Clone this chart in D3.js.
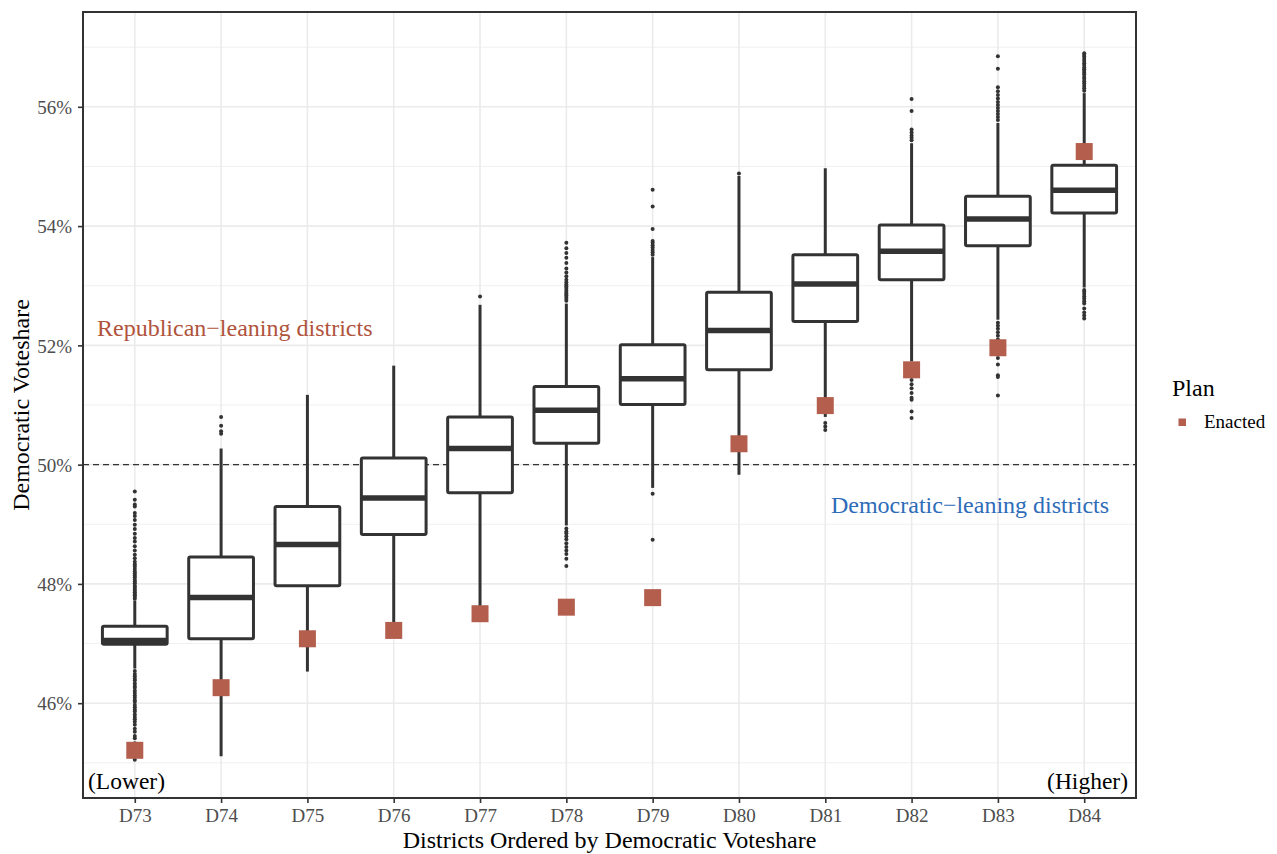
<!DOCTYPE html>
<html>
<head>
<meta charset="utf-8">
<script src="https://cdn.jsdelivr.net/npm/d3@7"></script>
<style>
  body { margin: 0; background: #fff; }
  text { font-family: "Liberation Serif", "Times New Roman", serif; }
</style>
</head>
<body>
<div id="chart"></div>
<script>
// districts, ordered by democratic voteshare
var districts = ["D73", "D74", "D75", "D76", "D77", "D78", "D79", "D80", "D81", "D82", "D83", "D84"];

// box stats (% dem voteshare)
var q1        = [46.99, 47.08, 47.97, 48.83, 49.53, 50.36, 51.01, 51.59, 52.40, 53.10, 53.67, 54.22];
var medians   = [47.05, 47.77, 48.66, 49.44, 50.27, 50.91, 51.44, 52.25, 53.03, 53.58, 54.12, 54.60];
var q3        = [47.29, 48.45, 49.30, 50.11, 50.80, 51.31, 52.01, 52.89, 53.52, 54.02, 54.50, 55.02];
var whiskerLo = [46.58, 45.11, 46.53, 47.25, 47.62, 48.98, 49.61, 49.83, 50.80, 51.73, 52.43, 52.97];
var whiskerHi = [47.72, 50.27, 51.17, 51.66, 52.68, 52.70, 53.48, 54.84, 54.97, 55.39, 55.73, 56.23];
var enacted   = [45.21, 46.26, 47.08, 47.22, 47.50, 47.61, 47.77, 50.35, 50.99, 51.59, 51.96, 55.25];

var outliers = [
  [47.75, 47.78, 47.81, 47.83, 47.86, 47.89, 47.92, 47.95, 47.97, 48.01, 48.04, 48.07, 48.11, 48.14, 48.18, 48.21,
   48.25, 48.29, 48.33, 48.37, 48.43, 48.49, 48.56, 48.63, 48.71, 48.77, 48.84, 48.92, 48.99, 49.07, 49.14, 49.19,
   49.30, 49.33, 49.41, 49.55,
   46.54, 46.49, 46.45, 46.41, 46.38, 46.33, 46.29, 46.26, 46.21, 46.17, 46.13, 46.09, 46.05, 46.02, 45.97, 45.93,
   45.89, 45.86, 45.81, 45.77, 45.73, 45.69, 45.64, 45.57, 45.52, 45.45, 45.41, 45.33, 45.27, 45.19, 45.12, 45.05],
  [50.52, 50.56, 50.65, 50.80],
  [],
  [],
  [52.82],
  [52.75, 52.78, 52.81, 52.84, 52.87, 52.90, 52.93, 52.96, 52.99, 53.02, 53.06, 53.10, 53.16, 53.22, 53.29, 53.38,
   53.47, 53.55, 53.63, 53.72,
   48.93, 48.88, 48.85, 48.80, 48.75, 48.68, 48.62, 48.56, 48.50, 48.42, 48.30],
  [53.52, 53.56, 53.60, 53.64, 53.68, 53.72, 53.75, 53.95, 54.33, 54.61, 49.51, 48.74],
  [54.88],
  [50.70, 50.64, 50.58],
  [55.44, 55.48, 55.52, 55.57, 55.62, 55.93, 56.13,
   51.68, 51.62, 51.55, 51.48, 51.42, 51.35, 51.28, 51.20, 51.12, 51.09, 50.89, 50.78],
  [55.78, 55.83, 55.88, 55.93, 55.98, 56.03, 56.08, 56.14, 56.20, 56.26, 56.33, 56.64, 56.85,
   52.38, 52.33, 52.28, 52.22, 52.16, 52.10, 52.05, 51.79, 51.68, 51.50, 51.47, 51.16],
  [56.27, 56.31, 56.35, 56.39, 56.43, 56.47, 56.50, 56.54, 56.57, 56.60, 56.63, 56.66, 56.70, 56.73, 56.77, 56.80,
   56.84, 56.87, 56.90,
   52.93, 52.90, 52.86, 52.82, 52.78, 52.74, 52.70, 52.62, 52.55, 52.50, 52.45]
];

var yTicks = [46, 48, 50, 52, 54, 56];
var yMinor = [45, 47, 49, 51, 53, 55, 57];

var width = 1277;
var height = 854;
var panelL = 83, panelT = 12, panelR = 1136, panelB = 798;

var svg = d3.select("#chart").append("svg")
    .attr("width", width)
    .attr("height", height);

var x = d3.scalePoint().domain(districts).range([panelL, panelR]).padding(0.6);
var y = d3.scaleLinear().domain([44.41, 57.59]).range([panelB, panelT]);
var halfBox = x.step() * 0.375;

// grid
svg.append("g").selectAll("line").data(yMinor).enter().append("line")
    .attr("x1", panelL).attr("x2", panelR)
    .attr("y1", d => y(d)).attr("y2", d => y(d))
    .style("stroke", "#f0f0f0").style("stroke-width", 1);
svg.append("g").selectAll("line").data(yTicks).enter().append("line")
    .attr("x1", panelL).attr("x2", panelR)
    .attr("y1", d => y(d)).attr("y2", d => y(d))
    .style("stroke", "#ebebeb").style("stroke-width", 1.6);
svg.append("g").selectAll("line").data(districts).enter().append("line")
    .attr("x1", d => x(d)).attr("x2", d => x(d))
    .attr("y1", panelT).attr("y2", panelB)
    .style("stroke", "#ebebeb").style("stroke-width", 1.6);

// 50% reference line
svg.append("line")
    .attr("x1", panelL).attr("x2", panelR)
    .attr("y1", y(50)).attr("y2", y(50))
    .style("stroke", "#333").style("stroke-width", 1.1).style("stroke-dasharray", "6,4");

var ink = "#333333";
var boxes = svg.append("g").selectAll("g").data(districts).enter().append("g");

boxes.append("line") // upper whisker
    .attr("x1", d => x(d)).attr("x2", d => x(d))
    .attr("y1", (d, i) => y(q3[i])).attr("y2", (d, i) => y(whiskerHi[i]))
    .style("stroke", ink).style("stroke-width", 3);
boxes.append("line") // lower whisker
    .attr("x1", d => x(d)).attr("x2", d => x(d))
    .attr("y1", (d, i) => y(q1[i])).attr("y2", (d, i) => y(whiskerLo[i]))
    .style("stroke", ink).style("stroke-width", 3);

boxes.selectAll("circle")
    .data((d, i) => outliers[i].map(v => ({d: d, v: v})))
    .enter().append("circle")
    .attr("cx", o => x(o.d)).attr("cy", o => y(o.v))
    .attr("r", 2).attr("fill", ink);

boxes.append("rect")
    .attr("x", d => x(d) - halfBox).attr("width", halfBox * 2)
    .attr("y", (d, i) => y(q3[i])).attr("height", (d, i) => y(q1[i]) - y(q3[i]))
    .attr("rx", 1.5)
    .style("fill", "#fff").style("stroke", ink).style("stroke-width", 3);
boxes.append("line") // median
    .attr("x1", d => x(d) - halfBox).attr("x2", d => x(d) + halfBox)
    .attr("y1", (d, i) => y(medians[i])).attr("y2", (d, i) => y(medians[i]))
    .style("stroke", ink).style("stroke-width", 5.5);

// enacted plan
var sq = 17;
svg.append("g").selectAll("rect").data(districts).enter().append("rect")
    .attr("x", d => x(d) - sq / 2).attr("y", (d, i) => y(enacted[i]) - sq / 2)
    .attr("width", sq).attr("height", sq)
    .attr("fill", "#b45f4e");

// panel border
svg.append("rect")
    .attr("x", panelL).attr("y", panelT).attr("width", panelR - panelL).attr("height", panelB - panelT)
    .style("fill", "none").style("stroke", ink).style("stroke-width", 2);

// axes
var yAxis = svg.append("g").attr("transform", "translate(" + panelL + ",0)")
    .call(d3.axisLeft(y).tickValues(yTicks).tickSize(5).tickPadding(6).tickFormat(d => d + "%"));
var xAxis = svg.append("g").attr("transform", "translate(0," + panelB + ")")
    .call(d3.axisBottom(x).tickSize(5).tickPadding(6));
[yAxis, xAxis].forEach(function (ax) {
    ax.select(".domain").remove();
    ax.selectAll(".tick line").style("stroke", ink).style("stroke-width", 1.6);
    ax.selectAll(".tick text").style("fill", "#4d4d4d").style("font-size", "19px")
        .style("font-family", '"Liberation Serif", serif');
});
xAxis.selectAll(".tick text").attr("y", 24).attr("dy", 0);
yAxis.selectAll(".tick text").attr("dy", "0.35em");

// titles
svg.append("text")
    .attr("x", (panelL + panelR) / 2).attr("y", 848)
    .attr("text-anchor", "middle").style("font-size", "24px").style("fill", "#000")
    .text("Districts Ordered by Democratic Voteshare");
svg.append("text")
    .attr("transform", "translate(29," + ((panelT + panelB) / 2) + ") rotate(-90)")
    .attr("text-anchor", "middle").style("font-size", "24px").style("fill", "#000")
    .text("Democratic Voteshare");

// annotations
svg.append("text")
    .attr("x", 97).attr("y", y(52.3)).attr("dy", "0.35em")
    .style("font-size", "24px").style("fill", "#b0533c")
    .text("Republican\u2212leaning districts");
svg.append("text")
    .attr("x", 970).attr("y", y(49.33)).attr("dy", "0.35em")
    .attr("text-anchor", "middle")
    .style("font-size", "24px").style("fill", "#2e6cb8")
    .text("Democratic\u2212leaning districts");
svg.append("text")
    .attr("x", 88).attr("y", 789)
    .style("font-size", "23.5px").style("fill", "#000")
    .text("(Lower)");
svg.append("text")
    .attr("x", 1128).attr("y", 789).attr("text-anchor", "end")
    .style("font-size", "23.5px").style("fill", "#000")
    .text("(Higher)");

// legend
svg.append("text")
    .attr("x", 1172).attr("y", 396)
    .style("font-size", "24px").style("fill", "#000")
    .text("Plan");
svg.append("rect")
    .attr("x", 1178.5).attr("y", 418.5).attr("width", 7.5).attr("height", 7.5)
    .attr("fill", "#b45f4e");
svg.append("text")
    .attr("x", 1204).attr("y", 428)
    .style("font-size", "19px").style("fill", "#000")
    .text("Enacted");
</script>
</body>
</html>
